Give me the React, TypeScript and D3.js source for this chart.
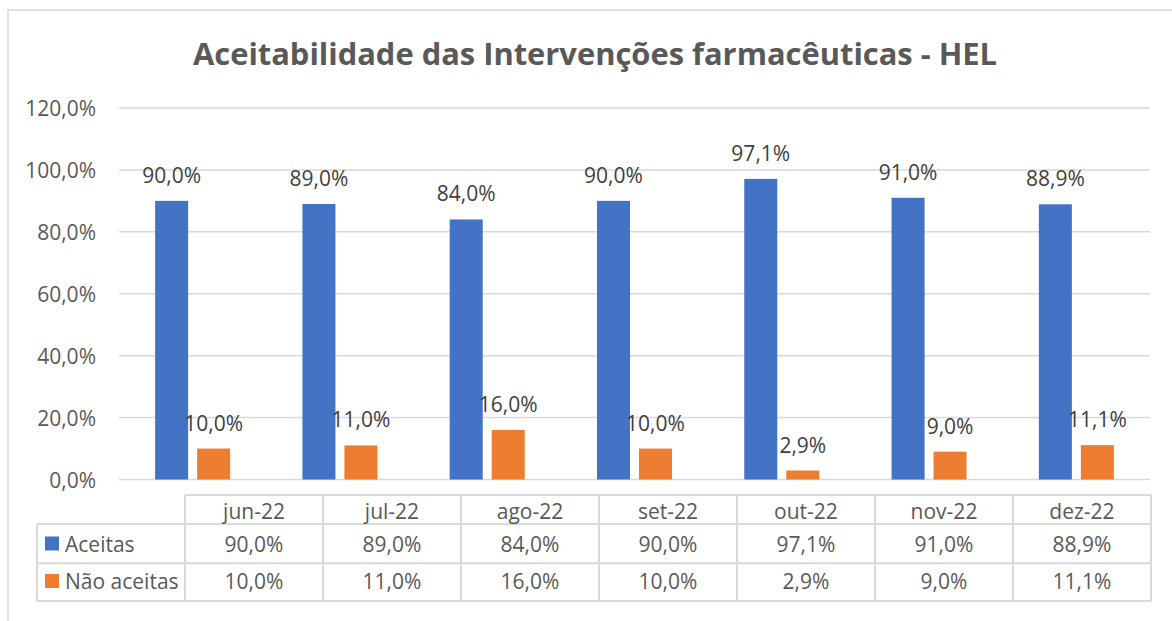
import React from 'react'
import * as d3 from 'd3'

// data
const months = ['jun-22', 'jul-22', 'ago-22', 'set-22', 'out-22', 'nov-22', 'dez-22']
const aceitas = [0.9, 0.89, 0.84, 0.9, 0.971, 0.91, 0.889]
const naoAceitas = [0.1, 0.11, 0.16, 0.1, 0.029, 0.09, 0.111]
const seriesNames = ['Aceitas', 'Não aceitas']
const yTicks = [0, 0.2, 0.4, 0.6, 0.8, 1.0, 1.2]

const colors = ['#4472C4', '#ED7D31']
const FONT = "'Open Sans', sans-serif"
const pt = d3.formatLocale({ decimal: ',', thousands: '.', grouping: [3], currency: ['R$', ''] })
const fmt = pt.format('.1%')

export default function App() {
  const width = 1172, height = 621
  const margin = { left: 119, right: 1150, top: 108, bottom: 479.5 }
  const series = [aceitas, naoAceitas]

  const x0 = d3.scaleBand().domain(months).range([margin.left, margin.right]).padding(0)
  const x1 = d3.scaleBand().domain(seriesNames).range([0, x0.bandwidth()])
    .paddingInner(0.214).paddingOuter(0.86)
  const y = d3.scaleLinear().domain([0, 1.2]).range([margin.bottom, margin.top])

  // data table geometry
  const tx = d3.scaleBand().domain(months).range([185, 1151])
  const legendLeft = 37
  const rows = [495, 524, 563.3, 601]
  const grid = '#d9d9d9'

  return (
    <svg width={width} height={height} style={{ position: 'absolute', left: 0, top: 0, background: '#fff' }}>
      <rect x={8} y={10} width={1300} height={800} fill="#fff" stroke={grid} strokeWidth={1.5} />

      <text x={595} y={65} textAnchor="middle" fontFamily={FONT} fontWeight="bold" fontSize={30}
        fill="#595959" textLength={804} lengthAdjust="spacingAndGlyphs">
        Aceitabilidade das Intervenções farmacêuticas - HEL
      </text>

      {yTicks.map(t => (
        <g key={t}>
          <line x1={margin.left} x2={margin.right} y1={y(t)} y2={y(t)} stroke={grid} strokeWidth={1.5} />
          <text x={96} y={y(t) + 8} textAnchor="end" fontFamily={FONT} fontSize={21} fill="#595959">{fmt(t)}</text>
        </g>
      ))}

      {months.map((m, i) => (
        <g key={m} transform={`translate(${x0(m)},0)`}>
          {series.map((s, j) => {
            const bx = x1(seriesNames[j])!
            return (
              <g key={j}>
                <rect x={bx} y={y(s[i])} width={x1.bandwidth()} height={y(0) - y(s[i])} fill={colors[j]} />
                <text x={bx + x1.bandwidth() / 2} y={y(s[i]) - 18} textAnchor="middle" fontFamily={FONT}
                  fontSize={21} fill="#404040">{fmt(s[i])}</text>
              </g>
            )
          })}
        </g>
      ))}

      {/* data table */}
      <g stroke={grid} strokeWidth={2} fill="none">
        <line x1={185} x2={1151} y1={rows[0]} y2={rows[0]} />
        {rows.slice(1).map(r => <line key={r} x1={legendLeft} x2={1151} y1={r} y2={r} />)}
        <line x1={legendLeft} x2={legendLeft} y1={rows[1]} y2={rows[3]} />
        {months.map(m => <line key={m} x1={tx(m)} x2={tx(m)} y1={rows[0]} y2={rows[3]} />)}
        <line x1={1151} x2={1151} y1={rows[0]} y2={rows[3]} />
      </g>
      {months.map(m => (
        <text key={m} x={tx(m)! + tx.bandwidth() / 2} y={519} textAnchor="middle" fontFamily={FONT}
          fontSize={21} fill="#595959">{m}</text>
      ))}
      {series.map((s, j) => {
        const base = j === 0 ? 551.5 : 589
        return (
          <g key={j}>
            <rect x={45} y={base - 15} width={14} height={14} fill={colors[j]} />
            <text x={65} y={base} fontFamily={FONT} fontSize={21} fill="#595959">{seriesNames[j]}</text>
            {months.map((m, i) => (
              <text key={m} x={tx(m)! + tx.bandwidth() / 2} y={base} textAnchor="middle" fontFamily={FONT}
                fontSize={21} fill="#595959">{fmt(s[i])}</text>
            ))}
          </g>
        )
      })}
    </svg>
  )
}
